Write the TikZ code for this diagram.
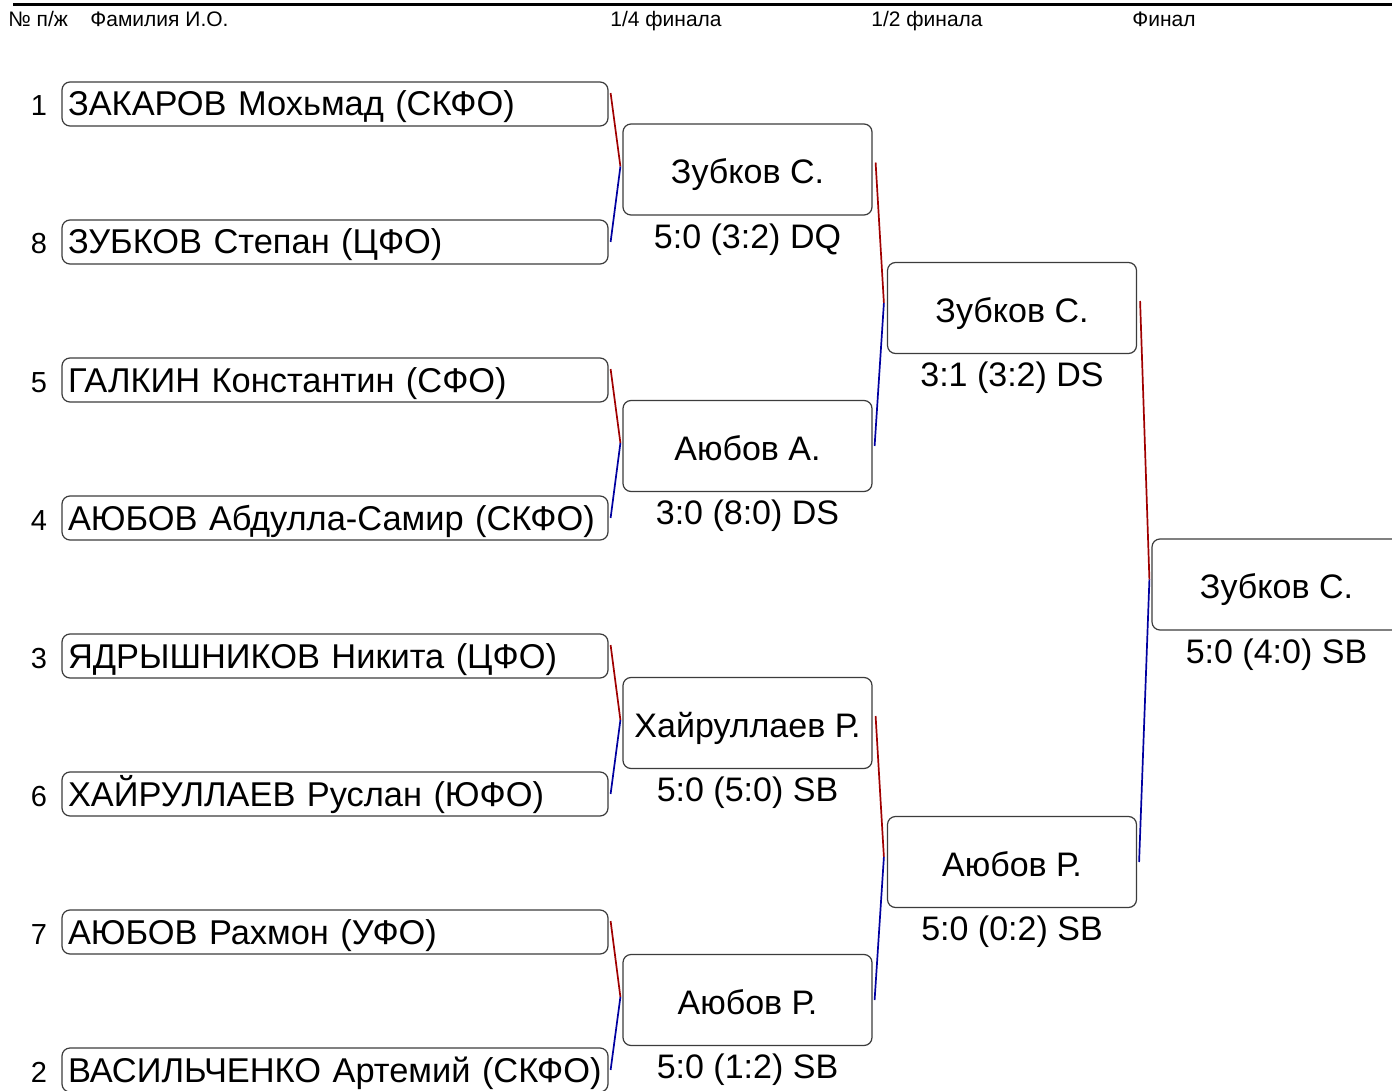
\documentclass[tikz,border=0pt]{standalone}
\usepackage{fontspec}
\setmainfont{Liberation Sans}
\usetikzlibrary{positioning, calc}
\definecolor{winred}{RGB}{160,0,0}
\definecolor{loseblue}{RGB}{0,0,160}
\definecolor{boxgray}{RGB}{60,60,60}

\begin{document}
\begin{tikzpicture}[x=0.5pt, y=-0.5pt,
	player/.style={draw=boxgray, line width=0.6pt, rounded corners=4pt, minimum height=22pt,
		text width=267pt, inner xsep=3pt, inner ysep=0pt, align=left,
		text height=12pt, text depth=0pt, font=\fontsize{17.2}{20}\selectfont},
	seed/.style={inner sep=0pt, font=\fontsize{14.5}{16}\selectfont},
	winner/.style={draw=boxgray, line width=0.6pt, rounded corners=4pt, minimum width=124.5pt,
		minimum height=45.5pt, inner sep=0pt, text height=14pt, text depth=0pt,
		font=\fontsize{17}{20}\selectfont},
	score/.style={inner sep=0pt, font=\fontsize{17}{20}\selectfont},
	head/.style={anchor=base west, inner sep=0pt, font=\fontsize{10.5}{12}\selectfont},
	redline/.style={winred, line width=0.85pt},
	blueline/.style={loseblue, line width=0.85pt}]
		\fill[white] (0,0) rectangle (1392,1091);
		\clip (0,0) rectangle (1392,1091);
		\useasboundingbox (0,0) rectangle (1392,1091);
		
		% header
		\draw[line width=1.25pt] (13,4.5) -- (1392,4.5);
		\node[head] (hnum) at (8,27) {№ п/ж};
		\node[head] (hname) at (90,27) {Фамилия И.О.};
		\node[head] (hqf) at (610,27) {1/4 финала};
		\node[head] (hsf) at (871,27) {1/2 финала};
		\node[head] (hfin) at (1132,27) {Финал};
		
		% participants
		\node[player] (p1) at (335,104) {ЗАКАРОВ Мохьмад (СКФО)};
		\node[player] (p8) at (335,242) {ЗУБКОВ Степан (ЦФО)};
		\node[player] (p5) at (335,380) {ГАЛКИН Константин (СФО)};
		\node[player] (p4) at (335,518) {АЮБОВ Абдулла-Самир (СКФО)};
		\node[player] (p3) at (335,656) {ЯДРЫШНИКОВ Никита (ЦФО)};
		\node[player] (p6) at (335,794) {ХАЙРУЛЛАЕВ Руслан (ЮФО)};
		\node[player] (p7) at (335,932) {АЮБОВ Рахмон (УФО)};
		\node[player] (p2) at (335,1070) {ВАСИЛЬЧЕНКО Артемий (СКФО)};
		
		\node[seed, base left=7pt of p1] (n1) {1};
		\node[seed, base left=7pt of p8] (n8) {8};
		\node[seed, base left=7pt of p5] (n5) {5};
		\node[seed, base left=7pt of p4] (n4) {4};
		\node[seed, base left=7pt of p3] (n3) {3};
		\node[seed, base left=7pt of p6] (n6) {6};
		\node[seed, base left=7pt of p7] (n7) {7};
		\node[seed, base left=7pt of p2] (n2) {2};
		
		% 1/4
		\node[winner] (q1) at (747.5,169.5) {Зубков С.};
		\node[winner] (q2) at (747.5,446) {Аюбов А.};
		\node[winner] (q3) at (747.5,723) {Хайруллаев Р.};
		\node[winner] (q4) at (747.5,1000) {Аюбов Р.};
		\node[score] (sq1) at ($(q1.south)+(0,24)$) {5:0 (3:2) DQ};
		\node[score] (sq2) at ($(q2.south)+(0,24)$) {3:0 (8:0) DS};
		\node[score] (sq3) at ($(q3.south)+(0,24)$) {5:0 (5:0) SB};
		\node[score] (sq4) at ($(q4.south)+(0,24)$) {5:0 (1:2) SB};
		
		% 1/2
		\node[winner] (s1) at (1012,308) {Зубков С.};
		\node[winner] (s2) at (1012,862) {Аюбов Р.};
		\node[score] (ss1) at ($(s1.south)+(0,24)$) {3:1 (3:2) DS};
		\node[score] (ss2) at ($(s2.south)+(0,24)$) {5:0 (0:2) SB};
		
		% final
		\node[winner] (f) at (1276.5,584.5) {Зубков С.};
		\node[score] (sf) at ($(f.south)+(0,24)$) {5:0 (4:0) SB};
		
		% connectors
		\coordinate (mq1) at ($(q1.west)+(-2,-3)$);
		\coordinate (mq2) at ($(q2.west)+(-2,-3)$);
		\coordinate (mq3) at ($(q3.west)+(-2,-3)$);
		\coordinate (mq4) at ($(q4.west)+(-2,-3)$);
		\coordinate (ms1) at ($(s1.west)+(-3,-5)$);
		\coordinate (ms2) at ($(s2.west)+(-3,-5)$);
		\coordinate (mf) at ($(f.west)+(-2,-5)$);
		\draw[redline] ($(p1.east)+(2,-11)$) -- (mq1);
		\draw[blueline] (mq1) -- ($(p8.east)+(2,0)$);
		\draw[redline] ($(p5.east)+(2,-11)$) -- (mq2);
		\draw[blueline] (mq2) -- ($(p4.east)+(2,0)$);
		\draw[redline] ($(p3.east)+(2,-11)$) -- (mq3);
		\draw[blueline] (mq3) -- ($(p6.east)+(2,0)$);
		\draw[redline] ($(p7.east)+(2,-11)$) -- (mq4);
		\draw[blueline] (mq4) -- ($(p2.east)+(2,0)$);
		\draw[redline] ($(q1.east)+(3,-7)$) -- (ms1);
		\draw[blueline] (ms1) -- ($(q2.east)+(2,0)$);
		\draw[redline] ($(q3.east)+(3,-7)$) -- (ms2);
		\draw[blueline] (ms2) -- ($(q4.east)+(2,0)$);
		\draw[redline] ($(s1.east)+(3,-7)$) -- (mf);
		\draw[blueline] (mf) -- ($(s2.east)+(2,0)$);
\end{tikzpicture}
\end{document}
